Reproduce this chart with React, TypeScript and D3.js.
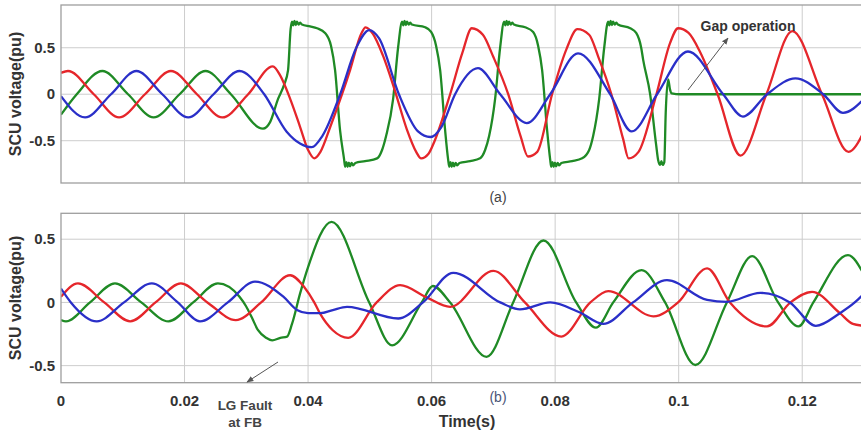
import React from 'react';
import * as d3 from 'd3';

type P = [number, number];

// ---------- axis ticks ----------
const xTickValues = [0, 0.02, 0.04, 0.06, 0.08, 0.1, 0.12];
const xTickLabels = ['0', '0.02', '0.04', '0.06', '0.08', '0.1', '0.12'];
const yTickValues = [-0.5, 0, 0.5];
const yTickLabels = ['-0.5', '0', '0.5'];

// ---------- panel (a): time in ms, voltage in pu ----------
const topRed: P[] = [
  [0, 0.23], [1.13, 0.25], [5.3, 0], [9.4, -0.25], [13.6, 0], [17.8, 0.25], [22.0, 0], [26.1, -0.25],
  [30.3, 0], [34.3, 0.30], [35.5, 0.2], [37.1, -0.05], [38.7, -0.35], [40.0, -0.6], [41.0, -0.69],
  [42.0, -0.62], [43.6, -0.35], [45.5, 0], [46.8, 0.26], [48.6, 0.65], [49.3, 0.72], [50.5, 0.65],
  [52.1, 0.42], [54.0, 0.05], [56.0, -0.38], [57.5, -0.62], [58.3, -0.69], [59.5, -0.64], [60.5, -0.5],
  [63.0, 0], [65.0, 0.45], [66.5, 0.71], [68.3, 0.64], [70.0, 0.4], [72.4, 0], [74.4, -0.45],
  [75.6, -0.67], [77.1, -0.62], [79.5, 0], [81.8, 0.48], [83.6, 0.70], [85.5, 0.64], [87.0, 0.4],
  [89.1, 0], [91.0, -0.48], [91.9, -0.69], [93.5, -0.62], [96.4, 0], [98.6, 0.55], [99.9, 0.71],
  [101.6, 0.66], [103.5, 0.45], [106.3, 0], [110.0, -0.66], [114.2, 0], [118.4, 0.68], [123.2, 0],
  [127.5, -0.62], [130, -0.4],
];
const topBlue: P[] = [
  [0, -0.02], [3.9, -0.25], [8.1, 0], [12.2, 0.25], [16.4, 0], [20.6, -0.25], [24.7, 0], [28.9, 0.25],
  [32.9, 0], [36.5, -0.4], [38.7, -0.53], [40.6, -0.57], [42.3, -0.45], [45.2, 0], [47.8, 0.5],
  [49.9, 0.69], [51.5, 0.6], [54.7, 0], [57.8, -0.4], [59.8, -0.46], [61.6, -0.35], [63.8, 0],
  [67.5, 0.28], [71.1, 0], [75.4, -0.31], [79.2, 0], [83.7, 0.44], [88.9, 0], [92.4, -0.4], [96.5, 0],
  [101.5, 0.46], [107.2, 0], [110.4, -0.24], [114.3, 0], [118.9, 0.17], [123.4, 0], [126.6, -0.2],
  [130, -0.05],
];
const topGreen: P[] = [
  [0, -0.22], [2.55, 0], [6.7, 0.25], [10.85, 0], [15.0, -0.25], [19.2, 0], [23.4, 0.25], [27.5, 0],
  [32.7, -0.37], [33.85, -0.3], [35.14, -0.05], [36.11, 0.1], [36.76, 0.26], [37.17, 0.7],
  [37.41, 0.78], [37.6, 0.74], [37.8, 0.79], [38.0, 0.745], [38.2, 0.78], [38.45, 0.75], [38.7, 0.77],
  [39.0, 0.75], [40.32, 0.73], [41.46, 0.71], [42.75, 0.66], [43.72, 0.52], [44.37, 0.26],
  [45.18, -0.39], [45.83, -0.7],
  [46.0, -0.78], [46.2, -0.73], [46.4, -0.78], [46.6, -0.735], [46.8, -0.775], [47.05, -0.74],
  [47.3, -0.765], [47.65, -0.74], [49.23, -0.72], [51.17, -0.69], [51.98, -0.6], [52.63, -0.45],
  [53.77, -0.05], [54.57, 0.5],
  [55.22, 0.78], [55.42, 0.74], [55.62, 0.79], [55.82, 0.745], [56.02, 0.78], [56.27, 0.75],
  [56.52, 0.77], [56.8, 0.75], [58.95, 0.72], [59.92, 0.67], [60.73, 0.52], [61.38, 0.26],
  [62.19, -0.39], [62.67, -0.7],
  [62.85, -0.78], [63.05, -0.73], [63.25, -0.78], [63.45, -0.735], [63.65, -0.775], [63.9, -0.74],
  [64.15, -0.765], [64.5, -0.74], [66.24, -0.72], [67.85, -0.69], [68.66, -0.6], [69.31, -0.45],
  [70.28, -0.05], [71.09, 0.5],
  [71.74, 0.78], [71.94, 0.74], [72.14, 0.79], [72.34, 0.745], [72.54, 0.78], [72.79, 0.75],
  [73.04, 0.77], [73.32, 0.75], [75.14, 0.72], [76.44, 0.67], [77.25, 0.52], [77.89, 0.26],
  [78.7, -0.39], [79.19, -0.7],
  [79.36, -0.78], [79.56, -0.73], [79.76, -0.78], [79.96, -0.735], [80.16, -0.775], [80.41, -0.74],
  [80.66, -0.765], [81.0, -0.74], [82.75, -0.72], [84.37, -0.69], [85.51, -0.6], [86.15, -0.45],
  [87.13, -0.05], [87.94, 0.5],
  [88.58, 0.78], [88.78, 0.74], [88.98, 0.79], [89.18, 0.745], [89.38, 0.78], [89.63, 0.75],
  [89.88, 0.77], [90.16, 0.75], [92.15, 0.71], [93.12, 0.66], [93.93, 0.5], [94.25, 0.37],
  [95.38, 0], [96.36, -0.55], [96.68, -0.71],
  [97.0, -0.76], [97.2, -0.72], [97.4, -0.76], [97.67, -0.73], [97.9, -0.2], [98.3, 0.16],
  [98.6, 0.05], [98.87, 0.01], [100.24, 0], [130, 0],
];

// ---------- panel (b) ----------
const botRed: P[] = [
  [0, 0.045], [2.75, 0.15], [7.0, 0], [11.2, -0.15], [15.3, 0], [19.4, 0.15], [23.7, 0], [28.3, -0.14],
  [32.4, 0], [37.1, 0.215], [39.4, 0.12], [41.0, 0], [41.9, -0.085], [44.0, -0.22], [46.5, -0.28],
  [51.1, 0], [54.9, 0.137], [59.2, 0.04], [63.0, -0.035], [70.0, 0.25], [75.1, 0], [81.0, -0.27],
  [85.7, 0], [88.6, 0.09], [95.9, -0.11], [99.9, 0], [104.6, 0.27], [108.3, 0], [114.3, -0.19],
  [118.1, 0], [121.6, 0.084], [126.1, -0.085], [128.2, -0.17], [130, -0.185],
];
const botBlue: P[] = [
  [0, 0.11], [1.6, 0], [5.8, -0.15], [10.2, 0], [14.7, 0.15], [18.9, 0], [22.5, -0.15], [27.0, 0],
  [31.4, 0.165], [36.0, 0.045], [38.2, -0.06], [40.0, -0.085], [42.0, -0.085], [44.0, -0.06],
  [46.3, -0.035], [54.6, -0.127], [58.6, 0], [63.5, 0.234], [71.1, 0], [74.3, -0.055], [79.2, 0.0],
  [84.0, -0.08], [87.8, -0.17], [92.6, 0], [98.1, 0.176], [104.6, 0.02], [107.8, 0.005],
  [113.2, 0.076], [118.0, 0], [122.2, -0.185], [126.1, -0.085], [128.5, 0], [130, 0.07],
];
const botGreen: P[] = [
  [0, -0.14], [0.8, -0.15], [4.7, 0], [8.74, 0.15], [13.0, 0], [17.4, -0.15], [21.4, 0], [25.4, 0.15],
  [28.9, 0.045], [29.96, -0.03], [30.9, -0.12], [31.9, -0.22], [33.2, -0.28], [34.2, -0.30],
  [35.5, -0.28], [36.6, -0.27], [37.4, -0.17], [38.7, 0.07], [40.0, 0.28], [43.8, 0.637],
  [49.9, 0], [53.6, -0.34], [58.4, 0], [60.2, 0.13], [63.0, 0], [68.9, -0.43], [73.2, 0],
  [78.1, 0.49], [83.4, 0], [86.6, -0.2], [89.4, 0], [94.0, 0.255], [97.8, 0], [102.7, -0.495],
  [107.8, 0], [111.9, 0.366], [116.1, 0], [119.4, -0.19], [121.8, 0], [127.4, 0.374], [130, 0.22],
];

const RED = '#e5262b';
const GREEN = '#1f8a25';
const BLUE = '#2a2fc8';
const FONT = '"Liberation Sans", Arial, Helvetica, sans-serif';

const X0 = 61;
const X1 = 864;
const x = d3.scaleLinear().domain([0, 0.13]).range([X0, X1]);
const yTop = d3.scaleLinear().domain([-0.955, 0.96]).range([183, 5]);
const yBot = d3.scaleLinear().domain([-0.635, 0.705]).range([382.7, 213.3]);

type PanelProps = {
  y: d3.ScaleLinear<number, number>;
  id: string;
  series: { data: P[]; color: string }[];
  showXLabels: boolean;
};

function Panel({ y, id, series, showXLabels }: PanelProps) {
  const line = d3
    .line<P>()
    .x((d) => x(d[0] / 1000))
    .y((d) => y(d[1]))
    .curve(d3.curveMonotoneX);
  const [yb, yt] = y.range();
  const midY = (yb + yt) / 2;
  return (
    <g>
      <defs>
        <clipPath id={id}>
          <rect x={X0} y={yt} width={X1 - X0} height={yb - yt} />
        </clipPath>
      </defs>
      <rect x={X0} y={yt} width={X1 - X0} height={yb - yt} fill="#fff" />
      {xTickValues.slice(1).map((t) => (
        <line key={'vx' + t} x1={x(t)} x2={x(t)} y1={yt} y2={yb} stroke="#cdcdcd" strokeWidth={1} />
      ))}
      {yTickValues.map((v) => (
        <line key={'hy' + v} x1={X0} x2={X1} y1={y(v)} y2={y(v)} stroke="#cdcdcd" strokeWidth={1} />
      ))}
      <g clipPath={`url(#${id})`}>
        {series.map((s, i) => (
          <path key={i} d={line(s.data) || ''} fill="none" stroke={s.color} strokeWidth={2.3} strokeLinejoin="round" />
        ))}
      </g>
      <rect x={X0} y={yt} width={X1 - X0} height={yb - yt} fill="none" stroke="#9e9e9e" strokeWidth={1.3} />
      {yTickValues.map((v, i) => (
        <text key={'yl' + v} x={55} y={y(v)} dy="0.35em" textAnchor="end" fontFamily={FONT} fontWeight="bold" fontSize={15} fill="#333">
          {yTickLabels[i]}
        </text>
      ))}
      {showXLabels &&
        xTickValues.map((t, i) => (
          <text key={'xl' + t} x={x(t)} y={406} textAnchor="middle" fontFamily={FONT} fontWeight="bold" fontSize={15} fill="#333">
            {xTickLabels[i]}
          </text>
        ))}
      <text
        transform={`translate(15,${midY}) rotate(-90)`}
        textAnchor="middle"
        dy="0.35em"
        fontFamily={FONT}
        fontWeight="bold"
        fontSize={16}
        fill="#333"
      >
        SCU voltage(pu)
      </text>
    </g>
  );
}

export default function App() {
  return (
    <svg width={861} height={433} style={{ position: 'absolute', left: 0, top: 0, background: '#fff' }}>
      <defs>
        <marker id="arr" viewBox="0 0 10 10" refX="9" refY="5" markerWidth="7" markerHeight="7" orient="auto-start-reverse">
          <path d="M0,1 L10,5 L0,9 z" fill="#555" />
        </marker>
      </defs>
      <rect x={0} y={0} width={861} height={433} fill="#fff" />
      <Panel
        y={yTop}
        id="clipA"
        showXLabels={false}
        series={[
          { data: topGreen, color: GREEN },
          { data: topRed, color: RED },
          { data: topBlue, color: BLUE },
        ]}
      />
      <Panel
        y={yBot}
        id="clipB"
        showXLabels={true}
        series={[
          { data: botGreen, color: GREEN },
          { data: botRed, color: RED },
          { data: botBlue, color: BLUE },
        ]}
      />
      <text x={498} y={202} textAnchor="middle" fontFamily={FONT} fontSize={14} fill="#444">(a)</text>
      <text x={498} y={402} textAnchor="middle" fontFamily={FONT} fontSize={14} fill="#4a5578">(b)</text>
      <text x={467} y={427} textAnchor="middle" fontFamily={FONT} fontWeight="bold" fontSize={16} fill="#333">Time(s)</text>
      <line x1={688} y1={90} x2={728} y2={38} stroke="#555" strokeWidth={1} markerEnd="url(#arr)" />
      <text x={748} y={31} textAnchor="middle" fontFamily={FONT} fontWeight="bold" fontSize={14} fill="#333">Gap operation</text>
      <line x1={278} y1={362} x2={247} y2={382} stroke="#555" strokeWidth={1} markerEnd="url(#arr)" />
      <text x={245} y={410} textAnchor="middle" fontFamily={FONT} fontWeight="bold" fontSize={13.5} fill="#444">LG Fault</text>
      <text x={245} y={427} textAnchor="middle" fontFamily={FONT} fontWeight="bold" fontSize={13.5} fill="#444">at FB</text>
    </svg>
  );
}
